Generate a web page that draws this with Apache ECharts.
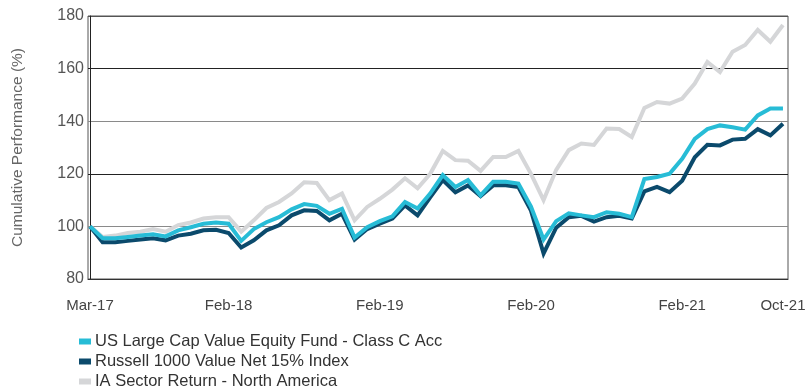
<!DOCTYPE html>
<html>
<head>
<meta charset="utf-8">
<script src="https://cdn.jsdelivr.net/npm/echarts@6/dist/echarts.min.js"></script>
<style>
  html, body { margin: 0; padding: 0; background: #fff; }
  #chart { width: 812px; height: 389px; }
</style>
</head>
<body>
<div id="chart"></div>
<script>
// Monthly cumulative performance, rebased to 100 at Mar-17
const months = [
  'Mar-17','Apr-17','May-17','Jun-17','Jul-17','Aug-17','Sep-17','Oct-17','Nov-17','Dec-17',
  'Jan-18','Feb-18','Mar-18','Apr-18','May-18','Jun-18','Jul-18','Aug-18','Sep-18','Oct-18','Nov-18','Dec-18',
  'Jan-19','Feb-19','Mar-19','Apr-19','May-19','Jun-19','Jul-19','Aug-19','Sep-19','Oct-19','Nov-19','Dec-19',
  'Jan-20','Feb-20','Mar-20','Apr-20','May-20','Jun-20','Jul-20','Aug-20','Sep-20','Oct-20','Nov-20','Dec-20',
  'Jan-21','Feb-21','Mar-21','Apr-21','May-21','Jun-21','Jul-21','Aug-21','Sep-21','Oct-21'
];

const fundValues = [
  100, 95.5, 95.5, 96, 96.5, 97, 96.2, 98.5, 99.7, 101,
  101.5, 101, 94.5, 99, 101.6, 103.5, 106.5, 108.5, 107.8, 104.8, 106.7, 95.8,
  99.7, 102, 103.8, 109.3, 106.8, 112.5, 119.5, 115, 117.6, 111.8, 117, 117,
  116.3, 107.5, 95, 102, 105, 104.2, 103.5, 105.4, 104.8, 103.5, 118, 118.8,
  120, 125.7, 133.3, 137, 138.4, 137.7, 136.8, 142.2, 144.8, 144.8
];

const indexValues = [
  100, 94, 94, 94.5, 95, 95.5, 94.7, 96.5, 97.2, 98.5,
  98.7, 97.5, 92, 94.7, 98.5, 100.4, 104.2, 106.1, 105.9, 102.3, 104.8, 95,
  99, 101, 103, 108, 104.2, 111, 117.6, 113, 115.6, 111.5, 115.6, 115.6,
  115, 106, 89.7, 99.5, 103.5, 104, 101.8, 103.5, 104, 103, 113.3, 115,
  113, 117.4, 126.3, 131, 130.8, 133, 133.3, 137, 134.6, 139
];

const sectorValues = [
  100, 96, 96.5, 97.5, 98, 99, 98, 100.5, 101.5, 103,
  103.5, 103.5, 98, 102.3, 107, 109.3, 112.5, 116.8, 116.5, 110, 112.5, 102.3,
  107.4, 110.5, 114, 118.3, 114.5, 120, 128.7, 125.2, 125, 121.1, 126.4, 126.4,
  128.7, 120, 110, 121.5, 129, 131.5, 131, 137.2, 137, 134, 145, 147.3,
  146.7, 148.6, 154.3, 162.5, 158.7, 166.4, 169, 174.7, 170.2, 176.6
];

const seriesNames = [
  'US Large Cap Value Equity Fund - Class C Acc',
  'Russell 1000 Value Net 15% Index',
  'IA Sector Return - North America'
];

const xTickMonths = ['Mar-17', 'Feb-18', 'Feb-19', 'Feb-20', 'Feb-21', 'Oct-21'];
const yTicks = [80, 100, 120, 140, 160, 180];

const colors = ['#27bcd6', '#0b4a6c', '#d5d6d8'];
const font = '"Liberation Sans", Arial, sans-serif';

const toPairs = vals => vals.map((v, i) => [i, v]);
const tickIndexes = xTickMonths.map(m => months.indexOf(m));

// One legend row per series, stacked under the plot
const legendRow = (name, top) => ({
  orient: 'horizontal',
  left: 79, top: top,
  padding: 0,
  itemWidth: 12, itemHeight: 6,
  icon: 'rect',
  textStyle: { fontFamily: font, fontSize: 16.5, lineHeight: 16, color: '#333', padding: [0, 0, 0, -1] },
  data: [name]
});

const chart = echarts.init(document.getElementById('chart'), null, { renderer: 'canvas' });

chart.setOption({
  animation: false,
  backgroundColor: '#ffffff',
  color: colors,
  grid: {
    left: 88, right: 24, top: 16, bottom: 110,
    show: true, borderColor: '#555', borderWidth: 1
  },
  legend: [
    legendRow(seriesNames[0], 333),
    legendRow(seriesNames[1], 353),
    legendRow(seriesNames[2], 373)
  ],
  xAxis: {
    type: 'value',
    min: -0.16,
    max: 55.4,
    axisLine: { show: true, lineStyle: { color: '#333', width: 1 } },
    axisTick: { show: false },
    splitLine: { show: false },
    axisLabel: {
      customValues: tickIndexes,
      formatter: v => months[Math.round(v)] || '',
      margin: 19,
      fontFamily: font, fontSize: 15, color: '#444'
    }
  },
  yAxis: {
    type: 'value',
    min: 80, max: 180, interval: 20,
    name: 'Cumulative Performance (%)',
    nameLocation: 'middle',
    nameGap: 62,
    nameTextStyle: { fontFamily: font, fontSize: 15.5, color: '#666' },
    axisLine: { show: true, lineStyle: { color: '#222', width: 1 } },
    axisTick: { show: false },
    axisLabel: {
      customValues: yTicks,
      margin: 4,
      fontFamily: font, fontSize: 16, color: '#555'
    },
    splitLine: {
      show: true,
      lineStyle: { color: ['#333', '#8a8a8a', '#222', '#8a8a8a', '#222', '#555'], width: 1 }
    }
  },
  series: [
    {
      name: seriesNames[0], type: 'line', z: 4,
      data: toPairs(fundValues), showSymbol: false,
      lineStyle: { width: 4, color: colors[0], join: 'miter' }
    },
    {
      name: seriesNames[1], type: 'line', z: 3,
      data: toPairs(indexValues), showSymbol: false,
      lineStyle: { width: 4, color: colors[1], join: 'miter' }
    },
    {
      name: seriesNames[2], type: 'line', z: 2,
      data: toPairs(sectorValues), showSymbol: false,
      lineStyle: { width: 4, color: colors[2], join: 'miter' }
    }
  ]
});
</script>
</body>
</html>
